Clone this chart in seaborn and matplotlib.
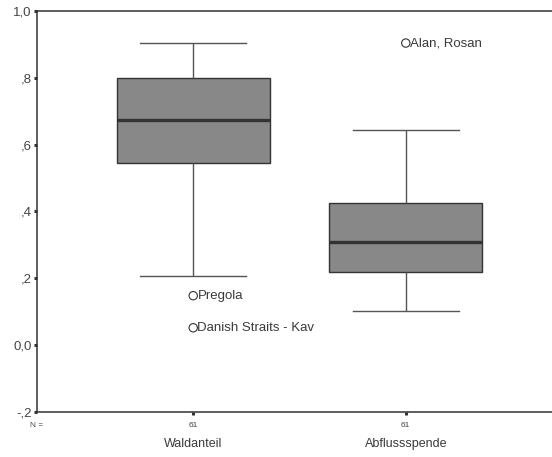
import matplotlib
matplotlib.use("Agg")
import matplotlib.pyplot as plt
import matplotlib.transforms as mtransforms
import seaborn as sns
import pandas as pd

# five-number summaries (whisker low, Q1, median, Q3, whisker high)
groups = ["Waldanteil", "Abflussspende"]
n_cases = [61, 61]
waldanteil = [0.207, 0.545, 0.674, 0.800, 0.904]
abflussspende = [0.102, 0.219, 0.309, 0.425, 0.644]

# outliers
out_group = ["Waldanteil", "Waldanteil", "Abflussspende"]
out_value = [0.148, 0.052, 0.904]
out_label = ["Pregola", "Danish Straits - Kav", "Alan, Rosan"]

yticks = [-0.2, 0.0, 0.2, 0.4, 0.6, 0.8, 1.0]
ytick_labels = ["-,2", "0,0", ",2", ",4", ",6", ",8", "1,0"]

plt.rcParams['font.family'] = ['Liberation Sans', 'DejaVu Sans']

box_df = pd.DataFrame({
    "group": [groups[0]] * len(waldanteil) + [groups[1]] * len(abflussspende),
    "value": waldanteil + abflussspende,
})
out_df = pd.DataFrame({"group": out_group, "value": out_value, "label": out_label})

fig = plt.figure(figsize=(5.52, 4.57), dpi=100)
ax = fig.add_axes([0.067, 0.0985, 0.94, 0.8775])

sns.boxplot(data=box_df, x="group", y="value", order=groups, whis=(0, 100),
            showfliers=False, width=0.72, color="#888888", saturation=1,
            linecolor="#333333", linewidth=1.0, capwidths=0.5,
            whiskerprops=dict(color="#555555", linewidth=1.0),
            capprops=dict(color="#555555", linewidth=1.0),
            medianprops=dict(color="#333333", linewidth=2.4),
            ax=ax)

sns.stripplot(data=out_df, x="group", y="value", order=groups, jitter=False,
              marker="o", s=6, color="#333333", linewidth=0.8, ax=ax)
for coll in ax.collections:
    coll.set_facecolor("none")
    coll.set_edgecolor("#333333")

for g, v, lab in zip(out_group, out_value, out_label):
    ax.annotate(lab, xy=(groups.index(g), v), xytext=(3, 0),
                textcoords="offset points", va="center", ha="left",
                fontsize=9.5, color="#3a3a3a")

ax.set_ylim(-0.2, 1.0)
ax.set_xlim(-0.735, 1.706)
ax.set_yticks(yticks)
ax.set_yticklabels(ytick_labels)
ax.set_xticks(range(len(groups)))
ax.set_xticklabels([str(n) for n in n_cases], fontsize=6, color="#444444")
ax.set_xlabel("")
ax.set_ylabel("")

ax.tick_params(axis="y", length=2.2, width=2.2, color="#333333", labelsize=9.5,
               labelcolor="#444444", pad=1.5)
ax.tick_params(axis="x", length=2.2, width=2.2, color="#333333", pad=5)

for side in ["left", "top", "bottom"]:
    ax.spines[side].set_color("#333333")
    ax.spines[side].set_linewidth(1.1)
ax.spines["right"].set_visible(False)

trans = mtransforms.blended_transform_factory(ax.transData, ax.transAxes)
for i, g in enumerate(groups):
    ax.text(i, -0.08, g, transform=trans, ha="center", va="center",
            fontsize=9, color="#3a3a3a")
ax.text(-0.768, -0.033, "N =", transform=trans, ha="left", va="center",
        fontsize=6, color="#444444")

fig.savefig("out.png", dpi=100)
